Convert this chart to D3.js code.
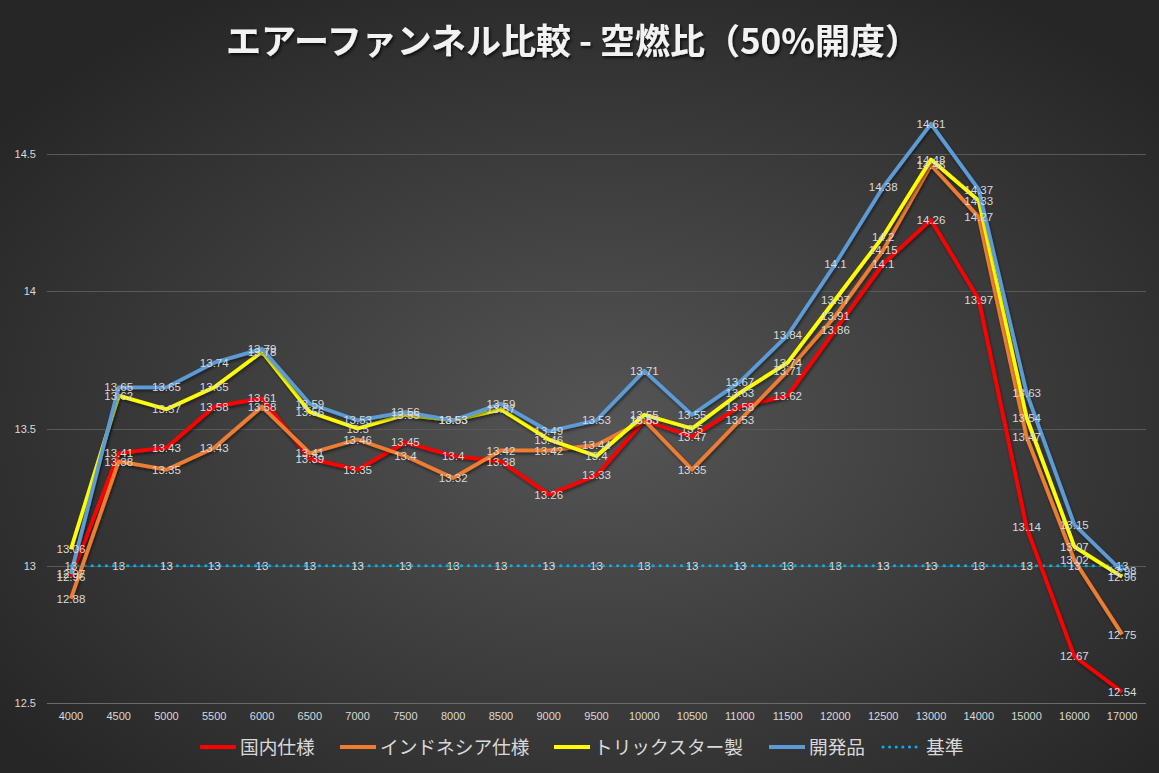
<!DOCTYPE html>
<html><head><meta charset="utf-8">
<script src="https://cdn.jsdelivr.net/npm/d3@7"></script>
<style>
html,body{margin:0;padding:0;background:#2b2b2b;}
svg{display:block;}
</style></head>
<body>
<svg id="chart" width="1159" height="773"></svg>
<script>
const categories = ["4000","4500","5000","5500","6000","6500","7000","7500","8000","8500","9000","9500","10000","10500","11000","11500","12000","12500","13000","14000","15000","16000","17000"];
const domestic   = [12.96,13.41,13.43,13.58,13.61,13.39,13.35,13.45,13.4,13.38,13.26,13.33,13.53,13.47,13.58,13.62,13.86,14.1,14.26,13.97,13.14,12.67,12.54];
const indonesia  = [12.88,13.38,13.35,13.43,13.58,13.41,13.46,13.4,13.32,13.42,13.42,13.44,13.53,13.35,13.53,13.71,13.91,14.15,14.46,14.27,13.47,13.02,12.75];
const trickstar  = [13.06,13.62,13.57,13.65,13.78,13.56,13.5,13.55,13.53,13.57,13.46,13.4,13.55,13.5,13.63,13.74,13.97,14.2,14.48,14.33,13.54,13.07,12.96];
const developed  = [12.97,13.65,13.65,13.74,13.79,13.59,13.53,13.56,13.53,13.59,13.49,13.53,13.71,13.55,13.67,13.84,14.1,14.38,14.61,14.37,13.63,13.15,12.98];
const baseline   = [13,13,13,13,13,13,13,13,13,13,13,13,13,13,13,13,13,13,13,13,13,13,13];
const yTicks = [12.5,13,13.5,14,14.5];
const seriesNames = ["国内仕様","インドネシア仕様","トリックスター製","開発品","基準"];
const seriesColors = ["#ff0000","#ed7d31","#ffff00","#5b9bd5","#00b0f0"];
const title = "エアーファンネル比較 - 空燃比（50%開度）";

const series = [domestic, indonesia, trickstar, developed, baseline].map((v,i)=>({name:seriesNames[i], color:seriesColors[i], values:v, dotted:i===4}));

const svg = d3.select("#chart");
const W = 1159, H = 773;
const defs = svg.append("defs");
const rg = defs.append("radialGradient").attr("id","bg").attr("cx","52%").attr("cy","55%").attr("r","65%");
rg.append("stop").attr("offset","0%").attr("stop-color","#555555");
rg.append("stop").attr("offset","100%").attr("stop-color","#262626");
const sh = defs.append("filter").attr("id","tshadow").attr("x","-10%").attr("y","-30%").attr("width","120%").attr("height","160%");
sh.append("feDropShadow").attr("dx",1.5).attr("dy",2).attr("stdDeviation",1.5).attr("flood-color","#000").attr("flood-opacity",0.7);
const ls = defs.append("filter").attr("id","lshadow").attr("x","-5%").attr("y","-5%").attr("width","110%").attr("height","110%");
ls.append("feDropShadow").attr("dx",1).attr("dy",2).attr("stdDeviation",1.5).attr("flood-color","#000").attr("flood-opacity",0.5);

svg.append("rect").attr("width",W).attr("height",H).attr("fill","url(#bg)");

const x = d3.scaleBand().domain(categories).range([47,1146]);
const y = d3.scaleLinear().domain([12.5,14.75]).range([703,85.4]);
const cx = c => x(c) + x.bandwidth()/2;

// gridlines
svg.append("g").selectAll("line").data(yTicks).join("line")
  .attr("x1",47).attr("x2",1146)
  .attr("y1",d=>Math.round(y(d))+0.5).attr("y2",d=>Math.round(y(d))+0.5)
  .attr("stroke",d=>d===12.5?"#6a6a6a":"#595959").attr("stroke-width",1);

// y axis labels
const yAxis = d3.axisLeft(y).tickValues(yTicks).tickSize(0).tickPadding(0).tickFormat(d3.format("~g"));
const gy = svg.append("g").attr("transform","translate(36,0)").call(yAxis);
gy.select(".domain").remove();
gy.selectAll("text").attr("fill","#d9d9d9").attr("font-family","'Liberation Sans', 'Noto Sans', sans-serif").attr("font-size",11);

// x axis labels
const xAxis = d3.axisBottom(x).tickSize(0).tickPadding(0);
const gx = svg.append("g").attr("transform","translate(0,711)").call(xAxis);
gx.select(".domain").remove();
gx.selectAll("text").attr("fill","#d9d9d9").attr("font-family","'Liberation Sans Narrow','Liberation Sans', sans-serif").attr("font-size",11).attr("dy","0.8em");

// lines
const line = d3.line().x((d,i)=>cx(categories[i])).y(d=>y(d));
const gl = svg.append("g");
[4,0,1,2,3].forEach(k=>{
  const s = series[k];
  gl.append("path").datum(s.values).attr("d",line)
    .attr("fill","none").attr("stroke",s.color)
    .attr("stroke-width", s.dotted?3.2:3.8)
    .attr("stroke-linejoin","round")
    .attr("stroke-linecap", s.dotted?"round":"butt")
    .attr("stroke-dasharray", s.dotted?"0.1,7":null)
    .attr("filter", s.dotted?null:"url(#lshadow)");
});

// data labels
const gLab = svg.append("g").attr("font-family","'Liberation Sans','Noto Sans',sans-serif").attr("font-size",11.5).attr("fill","#d9d9d9").attr("text-anchor","middle");
series.forEach(s=>{
  gLab.selectAll(null).data(s.values).join("text")
    .attr("x",(d,i)=>cx(categories[i]))
    .attr("y",d=>y(d))
    .attr("dy","0.36em")
    .text(d=>d3.format("~g")(d));
});

// title
svg.append("text").attr("x",573).attr("y",54).attr("text-anchor","middle")
  .attr("font-family","'Noto Sans CJK JP', sans-serif").attr("font-weight","bold").attr("font-size",35)
  .attr("fill","#f2f2f2").attr("filter","url(#tshadow)").text(title);

// legend
const legendX = [200,340,554,769,883];
const lg = svg.append("g");
series.forEach((s,i)=>{
  const g = lg.append("g").attr("transform",`translate(${legendX[i]},747)`);
  g.append("line").attr("x1",0).attr("x2",36).attr("y1",0).attr("y2",0)
    .attr("stroke",s.color).attr("stroke-width",s.dotted?3:4)
    .attr("stroke-linecap",s.dotted?"round":"butt")
    .attr("stroke-dasharray",s.dotted?"0.1,6.5":null);
  g.append("text").attr("x",s.dotted?43:40).attr("y",0).attr("dy","0.35em")
    .attr("font-family","'Noto Sans CJK JP', sans-serif").attr("font-size",18.7)
    .attr("fill","#d9d9d9").text(s.name);
});
</script>
</body></html>
